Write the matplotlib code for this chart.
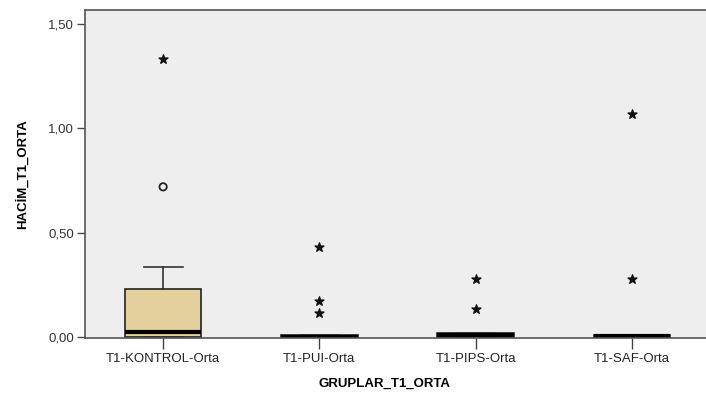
import matplotlib
matplotlib.use("Agg")
import matplotlib.pyplot as plt

groups = ["T1-KONTROL-Orta", "T1-PUI-Orta", "T1-PIPS-Orta", "T1-SAF-Orta"]
q1 = [0.0, 0.0, 0.0, 0.0]
median = [0.025, 0.0, 0.008, 0.004]
q3 = [0.23, 0.008, 0.018, 0.01]
whis_lo = [0.0, 0.0, 0.0, 0.0]
whis_hi = [0.334, 0.008, 0.018, 0.01]
outliers_circle = [[0.72], [], [], []]
outliers_star = [[1.333], [0.43, 0.172, 0.115], [0.28, 0.134], [1.07, 0.277]]
yticks = [0.0, 0.5, 1.0, 1.5]
ytick_labels = ["0,00", "0,50", "1,00", "1,50"]

fig = plt.figure(figsize=(7.06, 3.99), dpi=100)
ax = fig.add_axes([85/706, (399-338)/399, 1.0 - 85/706 + 0.01, (338-10)/399])
ax.set_facecolor("#eeeeee")

stats = []
for i, g in enumerate(groups):
    stats.append(dict(label=g, med=median[i], q1=q1[i], q3=q3[i],
                      whislo=whis_lo[i], whishi=whis_hi[i], fliers=[]))
positions = list(range(len(groups)))
ax.bxp(stats, positions=positions, widths=0.49, patch_artist=True, showfliers=False,
       boxprops=dict(facecolor="#e3d09c", edgecolor="#222222", linewidth=1.2),
       medianprops=dict(color="#000000", linewidth=3),
       whiskerprops=dict(color="#333333", linewidth=1.2),
       capprops=dict(color="#333333", linewidth=1.2),
       capwidths=0.25)

for i in positions:
    ys = outliers_circle[i]
    if ys:
        ax.scatter([i]*len(ys), ys, marker="o", s=28, facecolors="none",
                   edgecolors="#222222", linewidths=1.3, zorder=5)
    ys = outliers_star[i]
    if ys:
        ax.scatter([i]*len(ys), ys, marker="*", s=45, color="#111111", zorder=5)

ax.set_xlim(-0.5, len(groups) - 0.5 + 0.02)
ax.set_ylim(-0.004, 1.567)
ax.set_yticks(yticks)
ax.set_yticklabels(ytick_labels, fontsize=9.5, color="#333333", family="Liberation Sans")
ax.set_xticks(positions)
ax.set_xticklabels(groups, fontsize=9.5, color="#222222", family="Liberation Sans")
ax.tick_params(axis="y", length=6, width=1, color="#444444", pad=2)
ax.tick_params(axis="x", length=8, width=1, color="#444444", pad=3)

for s in ["left", "top", "bottom"]:
    ax.spines[s].set_color("#555555")
    ax.spines[s].set_linewidth(1.2)
ax.spines["right"].set_visible(False)

ax.set_ylabel("HACİM_T1_ORTA", fontsize=9.5, fontweight="bold", family="Liberation Sans",
              labelpad=14)
ax.set_xlabel("GRUPLAR_T1_ORTA", fontsize=9.5, fontweight="bold", family="Liberation Sans",
              labelpad=3)
ax.xaxis.set_label_coords((384-85)/(706-85+7), -0.12)

fig.savefig("out.png", dpi=100, facecolor="white")
